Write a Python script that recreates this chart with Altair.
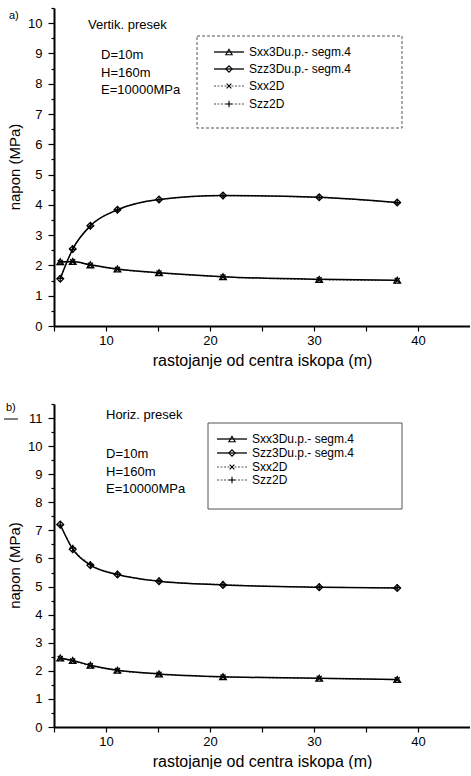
import altair as alt
import pandas as pd

# ---- data ----
dist = [5.6, 6.8, 8.5, 11.1, 15.1, 21.25, 30.5, 38.0]
series = ["Sxx3Du.p.- segm.4", "Szz3Du.p.- segm.4", "Sxx2D", "Szz2D"]

# a) vertical section
a_sxx3d = [2.12, 2.13, 2.02, 1.88, 1.76, 1.63, 1.54, 1.51]
a_szz3d = [1.56, 2.54, 3.31, 3.84, 4.18, 4.31, 4.25, 4.08]
a_sxx2d = [2.10, 2.12, 2.01, 1.87, 1.75, 1.62, 1.53, 1.50]
a_szz2d = [1.57, 2.53, 3.30, 3.83, 4.17, 4.30, 4.24, 4.07]

# b) horizontal section
b_sxx3d = [2.46, 2.37, 2.20, 2.02, 1.89, 1.79, 1.74, 1.69]
b_szz3d = [7.21, 6.33, 5.76, 5.43, 5.19, 5.06, 4.98, 4.95]
b_sxx2d = [2.44, 2.35, 2.18, 2.01, 1.88, 1.78, 1.73, 1.68]
b_szz2d = [7.19, 6.37, 5.79, 5.44, 5.20, 5.07, 4.98, 4.96]

x_ticks = [5, 10, 15, 20, 25, 30, 35, 40]
info = ["D=10m", "H=160m", "E=10000MPa"]

FONT = "Liberation Sans"
XPATH = "M-0.75,-0.75L0.75,0.75M0.75,-0.75L-0.75,0.75"
PLUS = "M-1,0L1,0M0,-1L0,1"
shapes = ["triangle-up", "diamond", XPATH, PLUS]
is3d = [True, True, False, False]
W = 416


def txt(s, x, y, size=13, align="left", angle=0):
    return alt.Chart(pd.DataFrame({"t": [s]})).mark_text(
        font=FONT, fontSize=size, align=align, baseline="middle", color="black", angle=angle
    ).encode(x=alt.value(x), y=alt.value(y), text="t:N")


def panel(vals, ymax, h, tag, section, sec_xy, info_xy, box, rows, lx, box_dash):
    n = len(dist)
    df = pd.DataFrame({
        "d": dist * 4,
        "v": vals[0] + vals[1] + vals[2] + vals[3],
        "s": sum([[s] * n for s in series], []),
    })
    yvals = [i * 0.5 for i in range(int(round(ymax * 2)) + 1)]
    xenc = alt.X("d:Q", scale=alt.Scale(domain=[5, 45], nice=False, zero=False),
                 axis=alt.Axis(values=x_ticks, title="rastojanje od centra iskopa (m)",
                               labelExpr="datum.value % 10 === 0 ? format(datum.value, 'd') : ''",
                               tickSize=5, labelPadding=3, titlePadding=5))
    yenc = alt.Y("v:Q", scale=alt.Scale(domain=[0, ymax], nice=False),
                 axis=alt.Axis(values=yvals, title=None,
                               labelExpr="datum.value % 1 === 0 ? format(datum.value, 'd') : ''",
                               tickSize={"condition": {"test": "datum.value % 1 === 0", "value": 6}, "value": 3},
                               labelPadding=6))
    base = alt.Chart(df)
    layers = []
    for k in [2, 3, 0, 1]:
        if is3d[k]:
            m = base.transform_filter(alt.datum.s == series[k]).mark_line(
                interpolate="monotone", color="black", strokeWidth=1.5)
        else:
            m = base.transform_filter(alt.datum.s == series[k]).mark_line(
                interpolate="monotone", color="#555555", strokeWidth=1.1, strokeDash=[2, 1.5])
        layers.append(m.encode(x=xenc, y=yenc))
    for k in range(4):
        layers.append(base.transform_filter(alt.datum.s == series[k]).mark_point(
            shape=shapes[k], filled=False, color="black", size=45, strokeWidth=1.3, opacity=1
        ).encode(x=xenc, y=yenc))

    # annotations
    layers.append(txt(tag[0], tag[1], tag[2], size=11))
    layers.append(txt(section, sec_xy[0], sec_xy[1]))
    for i, s in enumerate(info):
        layers.append(txt(s, info_xy[0], info_xy[1] + i * 17.5))
    layers.append(txt("napon (MPa)", -39, h / 2, size=15, align="center", angle=270))

    # legend
    one = pd.DataFrame({"a": [0]})
    layers.append(alt.Chart(one).mark_rect(fillOpacity=0, stroke="#555555", strokeWidth=1,
                                           strokeDash=box_dash).encode(
        x=alt.value(box[0]), x2=alt.value(box[1]), y=alt.value(box[2]), y2=alt.value(box[3])))
    for k in range(4):
        ry = rows[k]
        if is3d[k]:
            ln = alt.Chart(one).mark_rule(color="black", strokeWidth=1.3)
        else:
            ln = alt.Chart(one).mark_rule(color="#555555", strokeWidth=1, strokeDash=[2, 1.5])
        layers.append(ln.encode(x=alt.value(lx[0]), x2=alt.value(lx[1]), y=alt.value(ry)))
        layers.append(alt.Chart(one).mark_point(shape=shapes[k], filled=False, color="black",
                                                size=40, strokeWidth=1.1, opacity=1).encode(
            x=alt.value((lx[0] + lx[1]) / 2), y=alt.value(ry)))
        layers.append(txt(series[k], lx[2], ry, size=12))
    return alt.layer(*layers).properties(width=W, height=h)


top = panel([a_sxx3d, a_szz3d, a_sxx2d, a_szz2d], 10.5, 318, ("a)", -45, 8),
            "Vertik. presek", (34, 17), (47, 47),
            (143, 348, 28, 120), [44, 61, 78, 96], (160, 190, 195), [3, 2])
bottom = panel([b_sxx3d, b_szz3d, b_sxx2d, b_szz2d], 11.5, 323, ("b)", -48, 4),
               "Horiz. presek", (52, 11), (52, 50),
               (154, 348, 19, 105), [35, 49, 63, 76], (163, 193, 198), [1, 0])
bottom = alt.layer(bottom, alt.Chart(pd.DataFrame({"a": [0]})).mark_rule(color="black", strokeWidth=1).encode(
    x=alt.value(-50), x2=alt.value(-36), y=alt.value(15)))

chart = alt.vconcat(top, bottom, spacing=78, bounds="flush").properties(
    padding={"left": 3, "top": 7, "right": 0, "bottom": 0}
).configure_view(stroke=None).configure_axis(
    domainColor="black", domainWidth=2, tickColor="black", tickWidth=1.2,
    labelFont=FONT, labelFontSize=13, labelColor="black",
    titleFont=FONT, titleFontSize=16, titleFontWeight="normal", titleColor="black",
    grid=False
)

chart.save("out.html", embed_options={"renderer": "svg", "actions": False})
